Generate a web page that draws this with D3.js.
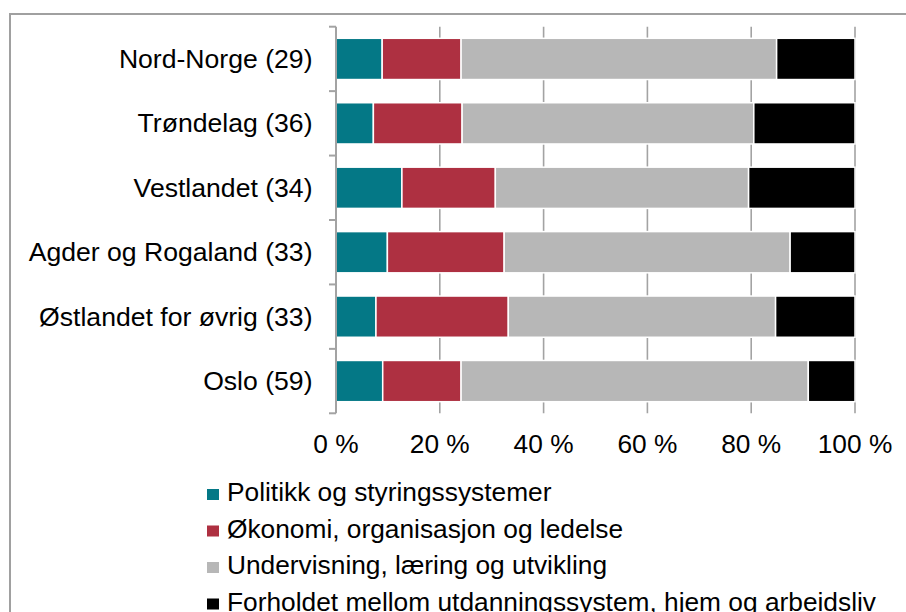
<!DOCTYPE html>
<html>
<head>
<meta charset="utf-8">
<script src="https://cdn.jsdelivr.net/npm/d3@7"></script>
<style>
  html, body { margin: 0; padding: 0; background: #fff; }
  svg { display: block; }
  text { font-family: "Liberation Sans", Arial, Helvetica, sans-serif; fill: #000; }
</style>
</head>
<body>
<svg id="chart" width="906" height="612"></svg>
<script>
// ---- data ----
const categories = ["Nord-Norge (29)", "Trøndelag (36)", "Vestlandet (34)", "Agder og Rogaland (33)", "Østlandet for øvrig (33)", "Oslo (59)"];
const seriesNames = ["Politikk og styringssystemer", "Økonomi, organisasjon og ledelse", "Undervisning, læring og utvikling", "Forholdet mellom utdanningssystem, hjem og arbeidsliv"];
const politikk     = [8.9, 7.2, 12.7, 9.9, 7.7, 9.0];
const okonomi      = [15.2, 17.1, 18.0, 22.5, 25.5, 15.1];
const undervisning = [60.8, 56.2, 48.8, 55.1, 51.5, 66.9];
const forholdet    = [15.1, 19.5, 20.5, 12.5, 15.3, 9.0];
const tickValues = [0, 20, 40, 60, 80, 100];
const tickLabels = ["0 %", "20 %", "40 %", "60 %", "80 %", "100 %"];
const colors = ["#047886", "#ae3041", "#b7b7b7", "#000000"];

(function () {
  // ---- build table ----
  const seriesData = [politikk, okonomi, undervisning, forholdet];
  const keys = ["s0", "s1", "s2", "s3"];
  const rows = categories.map((c, i) => {
    const r = { category: c };
    keys.forEach((k, j) => r[k] = seriesData[j][i]);
    return r;
  });
  const stacked = d3.stack().keys(keys)(rows);

  const svg = d3.select("#chart");
  const gridColor = "#a3a3a3";

  // outer border (extends beyond viewport on right/bottom)
  svg.append("rect")
    .attr("x", 10).attr("y", 14)
    .attr("width", 1000).attr("height", 1000)
    .attr("fill", "none")
    .attr("stroke", "#a0a0a0")
    .attr("stroke-width", 2);

  const plotTop = 26.7, plotBottom = 413.3;
  const x = d3.scaleLinear().domain([0, 100]).range([336, 855]);
  const y = d3.scaleBand().domain(categories).range([plotTop, plotBottom])
    .paddingInner(0.36).paddingOuter(0.18);

  // vertical gridlines
  svg.append("g").selectAll("line")
    .data(tickValues.filter(v => v > 0))
    .join("line")
    .attr("x1", d => x(d)).attr("x2", d => x(d))
    .attr("y1", plotTop).attr("y2", plotBottom)
    .attr("stroke", gridColor).attr("stroke-width", 1.6);

  // bars
  svg.append("g").selectAll("g")
    .data(stacked)
    .join("g")
    .attr("fill", (d, i) => colors[i])
    .selectAll("rect")
    .data(d => d)
    .join("rect")
    .attr("x", d => x(d[0]))
    .attr("width", d => x(d[1]) - x(d[0]))
    .attr("y", d => y(d.data.category))
    .attr("height", y.bandwidth())
    .attr("stroke", "#ffffff")
    .attr("stroke-width", 1.5);

  // y axis line
  svg.append("line")
    .attr("x1", x(0)).attr("x2", x(0))
    .attr("y1", plotTop).attr("y2", plotBottom)
    .attr("stroke", gridColor).attr("stroke-width", 2);

  // y ticks at band boundaries
  const boundaries = d3.range(categories.length + 1)
    .map(i => plotTop + i * (plotBottom - plotTop) / categories.length);
  svg.append("g").selectAll("line")
    .data(boundaries)
    .join("line")
    .attr("x1", x(0) - 7).attr("x2", x(0))
    .attr("y1", d => d).attr("y2", d => d)
    .attr("stroke", gridColor).attr("stroke-width", 2);

  // category labels
  svg.append("g").selectAll("text")
    .data(categories)
    .join("text")
    .attr("x", 312.5)
    .attr("y", d => y(d) + y.bandwidth() / 2)
    .attr("dy", "0.34em")
    .attr("text-anchor", "end")
    .attr("font-size", 26.6)
    .text(d => d);

  // x tick labels
  svg.append("g").selectAll("text")
    .data(tickValues)
    .join("text")
    .attr("x", d => x(d))
    .attr("y", 453)
    .attr("text-anchor", "middle")
    .attr("font-size", 26.3)
    .text((d, i) => tickLabels[i]);

  // legend
  const legend = svg.append("g").selectAll("g")
    .data(seriesNames)
    .join("g")
    .attr("transform", (d, i) => `translate(207, ${501 + i * 36.5})`);
  legend.append("rect")
    .attr("x", 0).attr("y", -12)
    .attr("width", 12).attr("height", 11)
    .attr("fill", (d, i) => colors[i]);
  legend.append("text")
    .attr("x", 20).attr("y", 0)
    .attr("font-size", 26.3)
    .text(d => d);
})();
</script>
</body>
</html>
